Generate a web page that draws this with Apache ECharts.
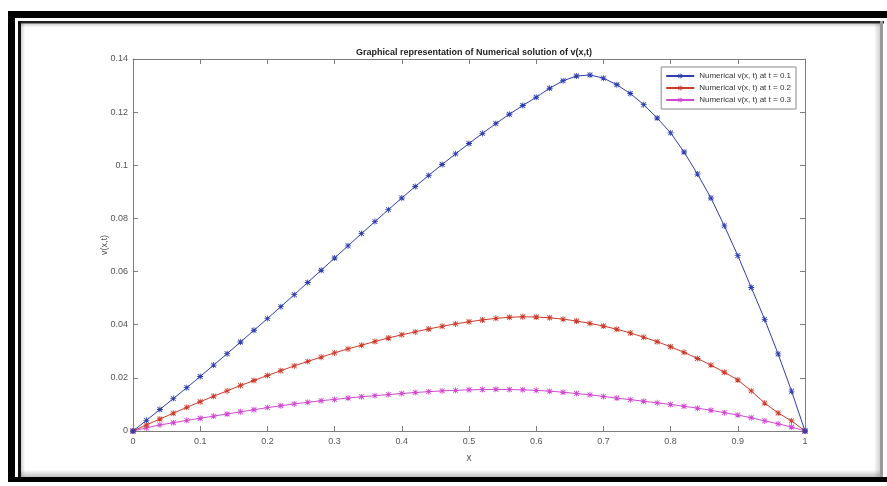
<!DOCTYPE html>
<html>
<head>
<meta charset="utf-8">
<script src="https://cdn.jsdelivr.net/npm/echarts@6/dist/echarts.min.js"></script>
<style>
html,body{margin:0;padding:0;background:#fff;}
#chart{width:887px;height:486px;}
</style>
</head>
<body>
<div id="chart"></div>
<script>
var titleText = 'Graphical representation of Numerical solution of v(x,t)';
var xLabel = 'x';
var yLabel = 'v(x,t)';
var seriesNames = ['Numerical v(x, t) at t = 0.1', 'Numerical v(x, t) at t = 0.2', 'Numerical v(x, t) at t = 0.3'];
var xTicks = [0, 0.1, 0.2, 0.3, 0.4, 0.5, 0.6, 0.7, 0.8, 0.9, 1];
var yTicks = [0, 0.02, 0.04, 0.06, 0.08, 0.1, 0.12, 0.14];

var xValues = [0, 0.02, 0.04, 0.06, 0.08, 0.10, 0.12, 0.14, 0.16, 0.18,
  0.20, 0.22, 0.24, 0.26, 0.28, 0.30, 0.32, 0.34, 0.36, 0.38,
  0.40, 0.42, 0.44, 0.46, 0.48, 0.50, 0.52, 0.54, 0.56, 0.58,
  0.60, 0.62, 0.64, 0.66, 0.68, 0.70, 0.72, 0.74, 0.76, 0.78,
  0.80, 0.82, 0.84, 0.86, 0.88, 0.90, 0.92, 0.94, 0.96, 0.98, 1.00];

var vT01 = [0, 0.0040, 0.0081, 0.0122, 0.0163, 0.0205, 0.0248, 0.0291, 0.0335, 0.0379,
  0.0423, 0.0468, 0.0513, 0.0559, 0.0605, 0.0651, 0.0697, 0.0743, 0.0788, 0.0833,
  0.0877, 0.0920, 0.0962, 0.1003, 0.1043, 0.1082, 0.1120, 0.1157, 0.1192, 0.1225,
  0.1256, 0.1290, 0.1318, 0.1336, 0.1340, 0.1328, 0.1303, 0.1270, 0.1228, 0.1178,
  0.1122, 0.1050, 0.0967, 0.0877, 0.0772, 0.0660, 0.0540, 0.0420, 0.0290, 0.0150, 0];

var vT02 = [0, 0.0023, 0.0045, 0.0067, 0.0089, 0.0110, 0.0131, 0.0151, 0.0171, 0.0190,
  0.0209, 0.0227, 0.0245, 0.0262, 0.0278, 0.0294, 0.0309, 0.0323, 0.0337, 0.0350,
  0.0362, 0.0373, 0.0384, 0.0394, 0.0403, 0.0411, 0.0418, 0.0424, 0.0428, 0.0430,
  0.0429, 0.0426, 0.0421, 0.0414, 0.0405, 0.0395, 0.0383, 0.0369, 0.0353, 0.0336,
  0.0317, 0.0296, 0.0273, 0.0248, 0.0221, 0.0192, 0.0151, 0.0105, 0.0068, 0.0038, 0];

var vT03 = [0, 0.0012, 0.0023, 0.0031, 0.0040, 0.0048, 0.0056, 0.0064, 0.0072, 0.0080,
  0.0088, 0.0095, 0.0102, 0.0108, 0.0114, 0.0119, 0.0124, 0.0129, 0.0133, 0.0137,
  0.0141, 0.0145, 0.0148, 0.0151, 0.0153, 0.0155, 0.0156, 0.0157, 0.0156, 0.0155,
  0.0153, 0.0150, 0.0146, 0.0141, 0.0136, 0.0130, 0.0124, 0.0118, 0.0112, 0.0106,
  0.0100, 0.0093, 0.0086, 0.0078, 0.0069, 0.0060, 0.0050, 0.0038, 0.0027, 0.0015, 0];

var colors = ['#2f3fae', '#cc3b2c', '#d048d0'];
var asterisk = 'path://M0 4.3H10V5.7H0Z M4.3 0H5.7V10H4.3Z M1.5 0.5L9.5 8.5L8.5 9.5L0.5 1.5Z M8.5 0.5L9.5 1.5L1.5 9.5L0.5 8.5Z';

function pairs(xs, ys) {
  var out = [];
  for (var i = 0; i < xs.length; i++) out.push([xs[i], ys[i]]);
  return out;
}

var chart = echarts.init(document.getElementById('chart'), null, {renderer: 'canvas'});
var axisGray = '#7d7d7d';
var labelStyle = {color: '#555', fontSize: 9, fontFamily: 'Liberation Sans, Arial, sans-serif'};

function baseX(pos, show) {
  return {
    type: 'value', position: pos, min: xTicks[0], max: xTicks[xTicks.length - 1], interval: 0.1,
    axisLine: {show: true, onZero: false, lineStyle: {color: axisGray, width: 1}},
    axisTick: {show: true, inside: true, length: 5, lineStyle: {color: axisGray}},
    axisLabel: show ? Object.assign({margin: 6}, labelStyle) : {show: false},
    splitLine: {show: false}
  };
}
function baseY(pos, show) {
  return {
    type: 'value', position: pos, min: yTicks[0], max: yTicks[yTicks.length - 1], interval: 0.02,
    axisLine: {show: true, onZero: false, lineStyle: {color: axisGray, width: 1}},
    axisTick: {show: true, inside: true, length: 5, lineStyle: {color: axisGray}},
    axisLabel: show ? Object.assign({margin: 5}, labelStyle) : {show: false},
    splitLine: {show: false}
  };
}

var xMain = baseX('bottom', true);
xMain.name = xLabel; xMain.nameLocation = 'middle'; xMain.nameGap = 22; xMain.nameMoveOverlap = false;
xMain.nameTextStyle = {color: '#555', fontSize: 10, fontFamily: 'Liberation Sans, Arial, sans-serif'};
var yMain = baseY('left', true);
yMain.name = yLabel; yMain.nameLocation = 'middle'; yMain.nameGap = 24; yMain.nameMoveOverlap = false;
yMain.nameTextStyle = {color: '#555', fontSize: 9, fontFamily: 'Liberation Sans, Arial, sans-serif'};

var series = [vT01, vT02, vT03].map(function (vals, i) {
  return {
    name: seriesNames[i], type: 'line', xAxisIndex: 0, yAxisIndex: 0,
    data: pairs(xValues, vals),
    symbol: asterisk, symbolSize: 6, showSymbol: true,
    lineStyle: {color: colors[i], width: 1},
    itemStyle: {color: colors[i]},
    animation: false, z: 3 + (2 - i)
  };
});

var option = {
  animation: false,
  backgroundColor: '#fff',
  title: {
    text: titleText, left: 469, top: 43, textAlign: 'center',
    textStyle: {fontSize: 9, fontWeight: 'bold', color: '#222', fontFamily: 'Liberation Sans, Arial, sans-serif'}
  },
  legend: {
    orient: 'vertical', right: 91, top: 67,
    data: seriesNames,
    itemWidth: 28, itemHeight: 6, itemGap: 4,
    padding: [5, 5, 5, 4],
    backgroundColor: '#fff', borderColor: '#888', borderWidth: 1, borderRadius: 0,
    textStyle: {fontSize: 8, color: '#333', fontFamily: 'Liberation Sans, Arial, sans-serif'}
  },
  grid: {left: 133, right: 82, top: 59, bottom: 55, containLabel: false},
  xAxis: [xMain, baseX('top', false)],
  yAxis: [yMain, baseY('right', false)],
  series: series,
  graphic: [
    {type: 'rect', shape: {x: 8, y: 11, width: 879, height: 7}, style: {fill: '#000'}, silent: true},
    {type: 'rect', shape: {x: 8, y: 11, width: 7, height: 471}, style: {fill: '#000'}, silent: true},
    {type: 'rect', shape: {x: 8, y: 477, width: 879, height: 5}, style: {fill: '#000'}, silent: true},
    {type: 'rect', shape: {x: 18, y: 21, width: 866, height: 2.5}, style: {fill: '#222'}, silent: true},
    {type: 'rect', shape: {x: 18, y: 21, width: 3, height: 456}, style: {fill: '#111'}, silent: true},
    {type: 'rect', shape: {x: 880, y: 21, width: 3, height: 456}, style: {fill: '#9a9a9a'}, silent: true},
    {type: 'rect', shape: {x: 21, y: 23.5, width: 859, height: 4}, style: {fill: new echarts.graphic.LinearGradient(0, 0, 0, 1, [{offset: 0, color: 'rgba(0,0,0,0.18)'}, {offset: 1, color: 'rgba(0,0,0,0)'}])}, silent: true},
    {type: 'rect', shape: {x: 21, y: 23.5, width: 4, height: 453}, style: {fill: new echarts.graphic.LinearGradient(0, 0, 1, 0, [{offset: 0, color: 'rgba(0,0,0,0.18)'}, {offset: 1, color: 'rgba(0,0,0,0)'}])}, silent: true},
    {type: 'rect', shape: {x: 21, y: 470, width: 859, height: 7}, style: {fill: new echarts.graphic.LinearGradient(0, 0, 0, 1, [{offset: 0, color: 'rgba(0,0,0,0)'}, {offset: 1, color: 'rgba(0,0,0,0.25)'}])}, silent: true},
    {type: 'rect', shape: {x: 874, y: 23.5, width: 6, height: 453}, style: {fill: new echarts.graphic.LinearGradient(0, 0, 1, 0, [{offset: 0, color: 'rgba(0,0,0,0)'}, {offset: 1, color: 'rgba(0,0,0,0.18)'}])}, silent: true}
  ]
};
chart.setOption(option);
</script>
</body>
</html>
